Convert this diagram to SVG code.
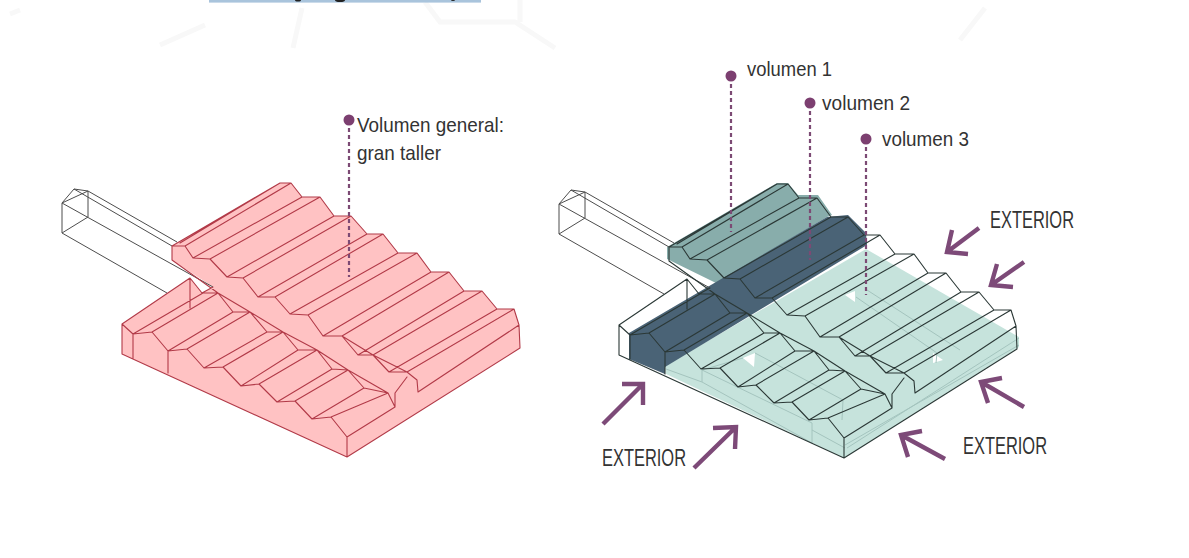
<svg xmlns="http://www.w3.org/2000/svg" width="1189" height="558" viewBox="0 0 1189 558">
<style>
text{font-family:"Liberation Sans",Arial,sans-serif;font-size:21px;fill:#333}
.ext{font-size:23px}
.w{fill:none;stroke-linejoin:round;stroke-linecap:round;stroke-width:1.1}
.ann{fill:none;stroke:#4d4d4d;stroke-width:1;stroke-linejoin:round}
.dot{fill:#7c3f70}
.lead{stroke:#7c4a74;stroke-width:2.2;stroke-dasharray:4 3;fill:none}
.arr{fill:none;stroke:#7d4a78;stroke-width:4.4;stroke-linejoin:miter}
.hid{fill:none;stroke:#a4c4be;stroke-width:1}
.wm{fill:none;stroke:#f8f8f8;stroke-width:5}
</style>
<defs>
<path id="annex" d="M74 189L88 191L62 203L62 233L88 217L88 191M74 189L62 203M88 191L177 242M74 189L172 246M62 203L213 287M62 233L167 293"/>
<path id="wires" d="M172 246L172 260L218 293L250 312L283 332L317 350L348 370L388 393M172 246L280 183L291 183L302 197L320 197L334 216L351 216L367 234L383 234L398 253L417 253L431 272L449 272L464 291L482 291L497 309L514 309L519 325L520 348L347 457L122 354L122 324L190 278L190 308M190 278L202 293L213 287M172 246L185 246L193 258L210 259L227 277L243 278L258 297L275 297L290 314L308 315L323 336L342 336L358 355L373 355L389 372L407 372L417 380L418 392M342 336L373 355L407 372M180 243L280 183M185 246L291 183M193 258L302 197M210 259L320 197M227 277L334 216M243 278L351 216M258 297L367 234M275 297L383 234M290 314L398 253M308 315L417 253M323 336L431 272M342 336L449 272M358 355L464 291M373 355L482 291M389 372L497 309M407 372L514 309M407 377L395 393L395 407M388 393L395 407M347 437L395 407M418 392L519 325M122 324L133 334L152 332L168 351L187 349L204 368L223 367L241 386L259 384L277 402L295 401L312 419L331 417L347 437L347 457M133 334L133 358M168 351L168 373M133 334L203 293L218 293L233 312L250 312L267 332L283 332L298 350L317 350L332 369L348 370L364 388L388 393M152 332L218 293M168 351L233 312M187 349L250 312M204 368L267 332M223 367L283 332M241 386L298 350M259 384L317 350M277 402L332 369M295 401L348 370M312 419L364 388M331 417L388 393"/>
</defs>
<g id="watermark">
<path class="wm" d="M160 45L205 25M293 48L302 8M425 2L440 22L515 22L555 48M520 0L520 22M20 10L10 14M960 40L985 8"/>
</g>
<rect id="top-bar" x="209" y="0" width="272" height="2.6" fill="#a9c4dc"/>
<g id="top-bar-marks" fill="#222"><ellipse cx="298" cy="0" rx="3" ry="1.5"/><ellipse cx="340" cy="0" rx="5" ry="2"/><ellipse cx="453" cy="0" rx="2" ry="1"/></g>

<g id="volumen-general">
<polygon fill="#ffc2c3" points="172,246 280,183 291,183 302,197 320,197 334,216 351,216 367,234 383,234 398,253 417,253 431,272 449,272 464,291 482,291 497,309 514,309 519,325 520,348 347,457 122,354 122,324 190,278 202,293 213,287 172,260"/>
<use href="#annex" class="ann"/>
<use href="#wires" class="w" stroke="#b23a48"/>
<circle class="dot" cx="349" cy="120" r="5.5"/>
<path class="lead" d="M349 128V277"/>
<text x="357" y="132" textLength="147" lengthAdjust="spacingAndGlyphs">Volumen general:</text>
<text x="357" y="160" textLength="84" lengthAdjust="spacingAndGlyphs">gran taller</text>
</g>

<g id="volumenes">
<polygon id="vol3" fill="#c6e3dc" points="866,249 1019,337 1019,347 844,458 666,374 665,366"/>
<polygon fill="#fff" points="743,358 755,353 754,367"/>
<polygon fill="#fff" points="845,295 855,291 855,302"/>
<polygon fill="#fff" points="933,353 943,360 933,363"/>
<path class="hid" d="M666 369L702 382L812 443M702 370L812 423L812 443M702 370L702 382M755 353L843 400L842 420M812 430L845 448M847 448L1019 338M856 297L937 353L936 363M867 290L960 350M702 370L743 358M845 445L1019 345"/>
<polygon id="vol1" fill="#88adab" points="667,247 777,183 788,183 798,195 818,195 832,215 827,217 716,283 667,259"/>
<polygon id="vol2" fill="#4a6376" points="629,333 827,217 848,215 866,233 867,245 665,367 665,374 629,359"/>
<g transform="translate(497,1)">
<use href="#annex" class="ann"/>
<use href="#wires" class="w" stroke="#2b3836"/>
</g>
<circle class="dot" cx="731" cy="76" r="5.5"/>
<circle class="dot" cx="810" cy="103" r="5.5"/>
<circle class="dot" cx="866" cy="139" r="5.5"/>
<path class="lead" d="M731 84V232M810 111V260M866 147V295"/>
<text x="747" y="76" textLength="85" lengthAdjust="spacingAndGlyphs">volumen 1</text>
<text x="822" y="110" textLength="88" lengthAdjust="spacingAndGlyphs">volumen 2</text>
<text x="882" y="146" textLength="87" lengthAdjust="spacingAndGlyphs">volumen 3</text>
</g>

<g id="connectors">
<path class="arr" d="M603 424L643 384M622 384H643V405"/>
<path class="arr" d="M694 468L736 427M713 428L736 427L735 449"/>
<path class="arr" d="M979 228L947 252M952 230L947 252L968 254"/>
<path class="arr" d="M1024 262L991 285M997 264L991 285L1013 287"/>
<path class="arr" d="M1024 407L981 382M1002 378L981 382L988 403"/>
<path class="arr" d="M945 459L901 435M922 431L901 435L908 457"/>
</g>
<g id="exterior-labels">
<text class="ext" x="990" y="228" textLength="84" lengthAdjust="spacingAndGlyphs">EXTERIOR</text>
<text class="ext" x="963" y="454" textLength="84" lengthAdjust="spacingAndGlyphs">EXTERIOR</text>
<text class="ext" x="602" y="466" textLength="84" lengthAdjust="spacingAndGlyphs">EXTERIOR</text>
</g>
</svg>
